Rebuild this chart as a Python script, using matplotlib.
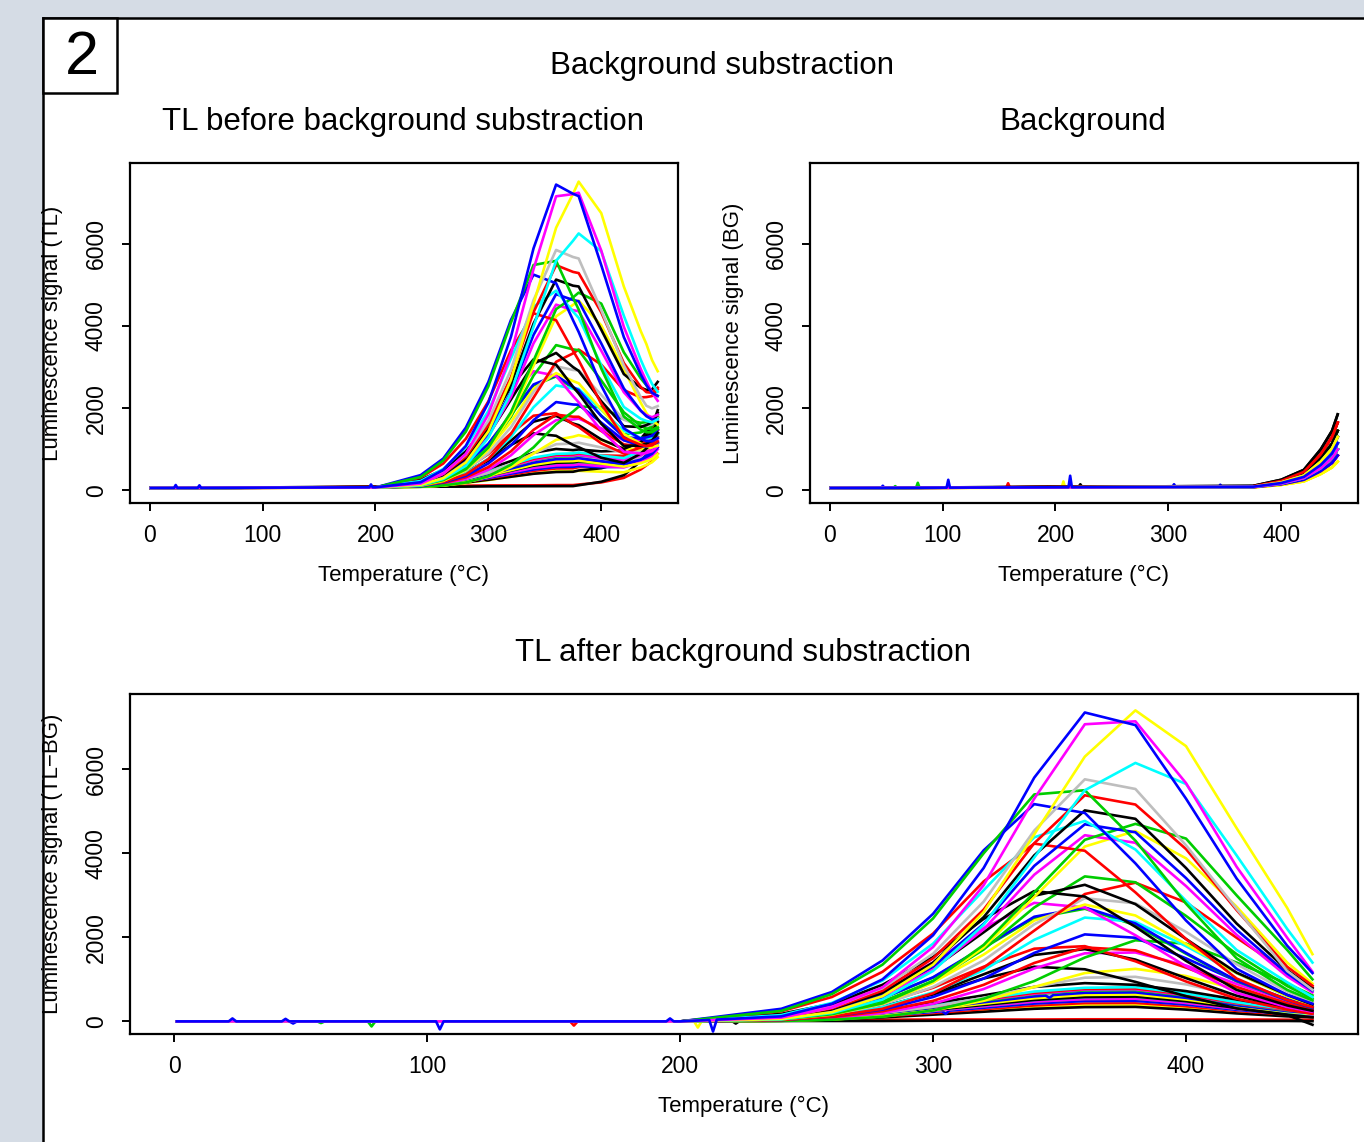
import numpy as np
import matplotlib
matplotlib.use("Agg")
import matplotlib.pyplot as plt
from matplotlib.patches import Rectangle
from matplotlib.lines import Line2D

plt.rcParams['font.family'] = ['Liberation Sans', 'DejaVu Sans']

# ---------------- data ----------------
R_COLORS = {"black": "#000000", "red": "#FF0000", "green": "#00CD00", "blue": "#0000FF",
            "cyan": "#00FFFF", "magenta": "#FF00FF", "yellow": "#FFFF00", "gray": "#BEBEBE"}

X_TICKS = [0, 100, 200, 300, 400]
Y_TICKS = [0, 2000, 4000, 6000]

# net signal (TL - BG) sampled at these temperatures; below 200 °C it is ~0
FLAT_T = [1, 200]
FLAT_NET = [0, 0]
GRID_T = [240, 260, 280, 300, 320, 340, 360, 380, 400, 420, 440, 450]

CURVE_COLORS = [
    "red", "black", "yellow", "black", "red", "gray", "blue", "green", "magenta", "cyan",
    "black", "yellow", "gray", "blue", "green", "magenta", "red", "cyan", "black", "gray",
    "yellow", "black", "magenta", "black", "red", "red", "green", "blue", "green", "cyan",
    "blue", "magenta", "yellow", "gray", "red", "green", "black", "black", "yellow", "magenta",
    "red", "green", "blue", "cyan", "black", "blue", "red", "green", "gray", "cyan",
    "yellow", "magenta", "blue",
]

NET_ROWS = [
    [40, 40, 40, 45, 45, 45, 50, 50, 45, 45, 40, 40],
    [10, 10, 10, 15, 15, 15, 15, 15, 15, 10, 10, 5],
    [20, 50, 110, 180, 260, 340, 390, 390, 320, 220, 140, 110],
    [15, 45, 95, 160, 230, 300, 340, 345, 280, 190, 120, 100],
    [20, 60, 120, 200, 290, 380, 435, 440, 360, 250, 160, 125],
    [25, 65, 135, 225, 325, 425, 485, 490, 400, 275, 175, 140],
    [25, 65, 135, 225, 325, 425, 485, 490, 400, 275, 175, 140],
    [25, 70, 150, 250, 360, 470, 535, 540, 440, 300, 190, 155],
    [30, 70, 150, 250, 360, 470, 530, 540, 440, 300, 190, 150],
    [30, 80, 160, 270, 390, 510, 580, 590, 480, 330, 210, 170],
    [30, 80, 160, 270, 390, 510, 580, 590, 480, 320, 150, -80],
    [30, 85, 175, 290, 420, 550, 630, 640, 520, 360, 230, 180],
    [35, 95, 195, 325, 470, 610, 700, 705, 575, 395, 250, 200],
    [35, 90, 190, 315, 455, 595, 680, 690, 560, 385, 245, 195],
    [40, 100, 200, 340, 490, 650, 740, 745, 610, 420, 265, 215],
    [40, 100, 210, 350, 510, 660, 760, 765, 625, 430, 275, 220],
    [40, 105, 215, 360, 520, 680, 775, 785, 640, 440, 280, 225],
    [40, 110, 220, 370, 540, 710, 800, 815, 665, 455, 290, 230],
    [50, 130, 260, 430, 620, 820, 910, 870, 720, 520, 330, 240],
    [30, 90, 200, 350, 560, 820, 1040, 1060, 880, 620, 370, 260],
    [15, 45, 120, 260, 490, 820, 1150, 1250, 1080, 760, 450, 310],
    [75, 180, 360, 640, 1020, 1300, 1240, 940, 600, 310, 160, 100],
    [20, 80, 200, 420, 770, 1260, 1620, 1640, 1330, 890, 490, 310],
    [50, 160, 350, 670, 1120, 1580, 1720, 1470, 1030, 610, 330, 210],
    [30, 100, 240, 490, 870, 1390, 1760, 1690, 1280, 820, 430, 280],
    [80, 210, 440, 800, 1300, 1730, 1790, 1430, 950, 540, 280, 180],
    [10, 40, 110, 260, 540, 960, 1520, 1930, 1850, 1400, 900, 620],
    [30, 120, 280, 580, 1020, 1630, 2070, 1990, 1500, 960, 500, 320],
    [80, 250, 550, 1040, 1750, 2460, 2680, 2290, 1610, 960, 520, 330],
    [40, 140, 340, 690, 1220, 1940, 2470, 2370, 1790, 1150, 600, 390],
    [80, 250, 550, 1050, 1770, 2490, 2710, 2330, 1630, 970, 530, 330],
    [160, 380, 790, 1400, 2220, 2820, 2710, 2050, 1310, 680, 340, 230],
    [60, 200, 470, 930, 1590, 2400, 2780, 2520, 1840, 1150, 600, 390],
    [50, 170, 400, 820, 1450, 2310, 2930, 2810, 2130, 1360, 710, 460],
    [30, 120, 300, 670, 1280, 2160, 3030, 3300, 2830, 1990, 1180, 810],
    [60, 200, 470, 960, 1710, 2710, 3450, 3310, 2510, 1600, 840, 540],
    [180, 420, 870, 1530, 2440, 3100, 2970, 2250, 1440, 750, 380, 250],
    [100, 300, 660, 1260, 2120, 2990, 3250, 2790, 1960, 1160, 630, 400],
    [50, 160, 420, 920, 1760, 2960, 4160, 4530, 3880, 2730, 1400, 900],
    [70, 250, 600, 1240, 2190, 3490, 4430, 4250, 3220, 2060, 1070, 690],
    [240, 580, 1180, 2090, 3330, 4230, 4060, 3070, 1960, 1020, 510, 340],
    [50, 170, 430, 960, 1820, 3070, 4320, 4700, 4350, 3000, 1700, 1000],
    [80, 270, 640, 1310, 2320, 3700, 4690, 4500, 3410, 2180, 1140, 730],
    [150, 440, 970, 1850, 3120, 4380, 4770, 4090, 2870, 1700, 930, 580],
    [80, 290, 680, 1400, 2480, 3950, 5020, 4820, 3650, 2330, 1220, 790],
    [300, 700, 1450, 2560, 4070, 5170, 4960, 3760, 2400, 1250, 630, 420],
    [90, 310, 730, 1500, 2660, 4240, 5380, 5160, 4100, 2650, 1300, 850],
    [250, 650, 1350, 2450, 4000, 5400, 5500, 4300, 2800, 1500, 750, 500],
    [90, 330, 790, 1610, 2850, 4540, 5760, 5530, 4190, 2680, 1200, 750],
    [50, 200, 520, 1200, 2300, 3900, 5500, 6150, 5650, 3950, 2200, 1400],
    [60, 220, 600, 1350, 2600, 4450, 6300, 7400, 6550, 4600, 2700, 1600],
    [90, 330, 810, 1770, 3240, 5300, 7070, 7140, 5670, 3680, 1990, 1180],
    [120, 420, 1000, 2050, 3650, 5800, 7350, 7050, 5300, 3400, 1800, 1150],
]

# background (BG) curves: profiles sampled at BG_T, one profile per curve
BG_T = [1, 375, 400, 420, 435, 445, 450]
BG_PROFILES = [
    [60, 110, 260, 500, 1000, 1450, 1850],
    [60, 100, 230, 450, 880, 1300, 1650],
    [60, 95, 210, 400, 780, 1140, 1450],
    [60, 90, 195, 360, 700, 1020, 1300],
    [60, 90, 180, 330, 620, 900, 1150],
    [60, 85, 165, 300, 540, 790, 1000],
    [60, 80, 150, 260, 470, 670, 850],
    [60, 75, 135, 220, 400, 560, 700],
]
BG_INDEX = [6, 3, 7, 0, 1, 4, 5, 3, 6, 2, 2, 7, 4, 6, 3, 5, 2, 4, 1, 5,
            6, 3, 4, 2, 5, 3, 4, 6, 2, 5, 4, 6, 7, 3, 1, 5, 4, 2, 7, 4,
            6, 3, 5, 4, 0, 6, 1, 5, 3, 5, 3, 5, 4]

# isolated spikes: (curve index, temperature, amplitude)
BG_SPIKES = [(14, 78, 120), (52, 105, 190), (16, 158, 100), (2, 207, 150),
             (52, 213, 280), (3, 222, 60), (6, 47, 50), (7, 58, 40),
             (6, 305, 70), (13, 346, 60)]
NET_SPIKES = [(52, 23, 70), (52, 44, 60), (52, 196, 70)]


def curve_arrays(i):
    t_net = np.array(FLAT_T + GRID_T, float)
    v_net = np.array(FLAT_NET + NET_ROWS[i], float)
    t_bg = np.array(BG_T, float)
    v_bg = np.array(BG_PROFILES[BG_INDEX[i]], float)
    sp_bg = [(t, a) for (c, t, a) in BG_SPIKES if c == i]
    sp_net = [(t, a) for (c, t, a) in NET_SPIKES if c == i]
    extra = []
    for t, a in sp_bg + sp_net:
        extra += [t - 1.5, t, t + 1.5]
    tu = np.unique(np.concatenate([t_net, t_bg, np.array(extra, float)]))
    net = np.interp(tu, t_net, v_net)
    bg = np.interp(tu, t_bg, v_bg)
    bs = np.zeros_like(tu)
    ns = np.zeros_like(tu)
    for t, a in sp_bg:
        bs[np.isclose(tu, t)] += a
    for t, a in sp_net:
        ns[np.isclose(tu, t)] += a
    return tu, net + ns + bg, bg + bs, net + ns - bs


# ---------------- layout ----------------
W, H = 1364, 1142
fx = lambda px: px / W
fy = lambda py: 1 - py / H

fig = plt.figure(figsize=(W / 100, H / 100), dpi=100, facecolor="#d5dce5")

fig.add_artist(Rectangle((fx(43), 0), 1 - fx(43), fy(18), transform=fig.transFigure,
                         facecolor="white", edgecolor="none", zorder=0))
fig.add_artist(Line2D([fx(43), fx(43)], [0, fy(18)], transform=fig.transFigure,
                      color="black", lw=1.8, zorder=1))
fig.add_artist(Line2D([fx(43), 1], [fy(18), fy(18)], transform=fig.transFigure,
                      color="black", lw=1.8, zorder=1))
fig.add_artist(Rectangle((fx(43), fy(93)), fx(117) - fx(43), fy(18) - fy(93),
                         transform=fig.transFigure, facecolor="white",
                         edgecolor="black", lw=1.8, zorder=2))
fig.text(fx(82), fy(58), "2", fontsize=44, ha="center", va="center")

fig.text(fx(722), fy(66), "Background substraction", fontsize=22.5, ha="center", va="center")
fig.text(fx(403), fy(122), "TL before background substraction", fontsize=22.5,
         ha="center", va="center")
fig.text(fx(1083), fy(122), "Background", fontsize=22.5, ha="center", va="center")
fig.text(fx(743), fy(653), "TL after background substraction", fontsize=22.5,
         ha="center", va="center")


def make_axes(x0, y0, x1, y1, ylim):
    ax = fig.add_axes([fx(x0), fy(y1), (x1 - x0) / W, (y1 - y0) / H])
    ax.set_xlim(-17.5, 468)
    ax.set_ylim(*ylim)
    ax.set_xticks(X_TICKS)
    ax.set_yticks(Y_TICKS)
    ax.tick_params(axis="both", direction="out", length=6, width=1.4, labelsize=16.5)
    ax.tick_params(axis="x", pad=9)
    ax.tick_params(axis="y", pad=10, labelrotation=90)
    for lab in ax.get_yticklabels():
        lab.set_va("center")
    for s in ax.spines.values():
        s.set_linewidth(1.6)
    return ax


ax1 = make_axes(130, 163, 678, 503, (-306, 7964))
ax2 = make_axes(810, 163, 1358, 503, (-306, 7964))
ax3 = make_axes(130, 694, 1358, 1034, (-300, 7790))

for i in range(len(NET_ROWS)):
    t, tl, bg, net = curve_arrays(i)
    c = R_COLORS[CURVE_COLORS[i]]
    ax1.plot(t, tl, color=c, lw=1.9)
    ax2.plot(t, bg, color=c, lw=1.9)
    ax3.plot(t, net, color=c, lw=1.9)

fig.text(fx(404), fy(575), "Temperature (°C)", fontsize=16, ha="center", va="center")
fig.text(fx(1084), fy(575), "Temperature (°C)", fontsize=16, ha="center", va="center")
fig.text(fx(744), fy(1106), "Temperature (°C)", fontsize=16, ha="center", va="center")
fig.text(fx(53), fy(333), "Luminescence signal (TL)", fontsize=16, rotation=90,
         ha="center", va="center")
fig.text(fx(734), fy(333), "Luminescence signal (BG)", fontsize=16, rotation=90,
         ha="center", va="center")
fig.text(fx(53), fy(864), "Luminescence signal (TL\u2212BG)", fontsize=16, rotation=90,
         ha="center", va="center")

fig.savefig("out.png", dpi=100, facecolor=fig.get_facecolor())
